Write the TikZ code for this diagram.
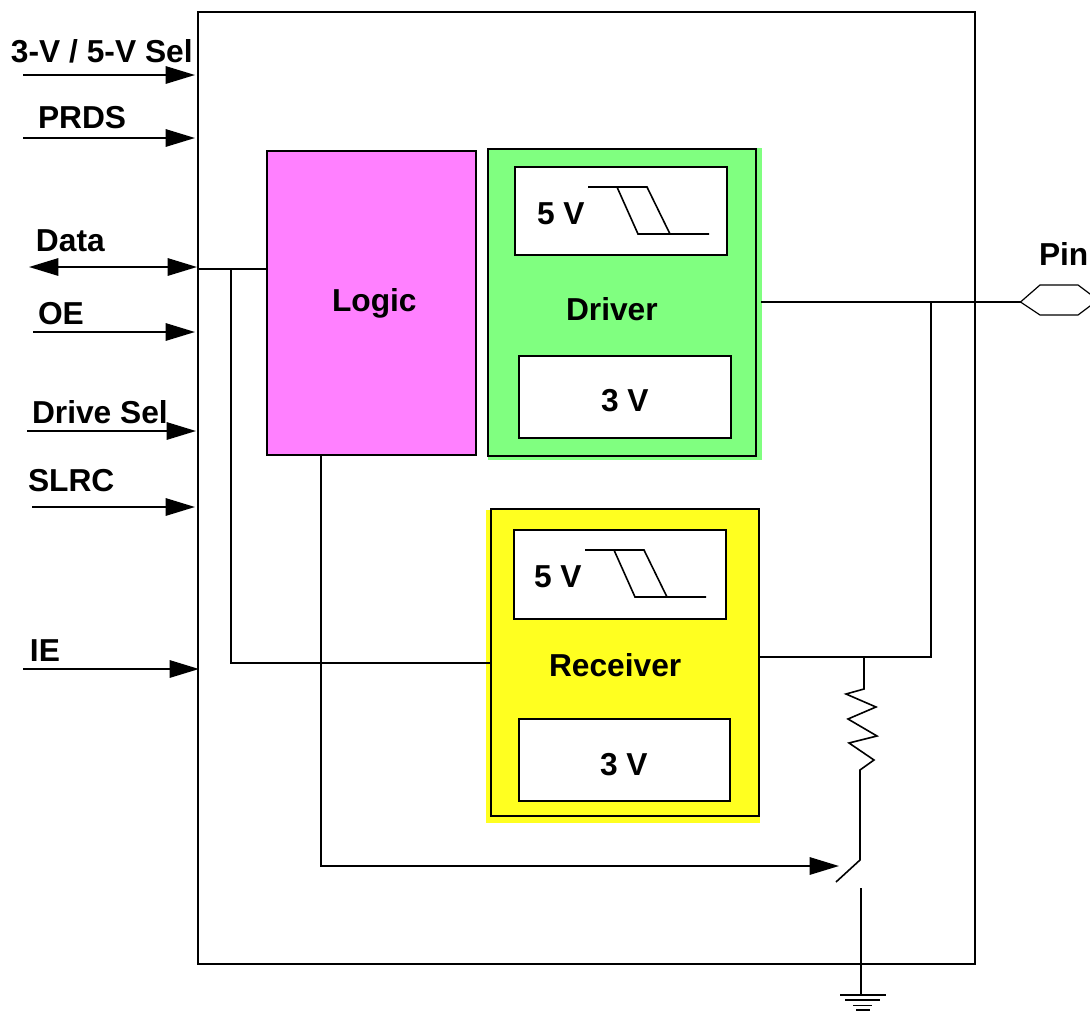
\documentclass[tikz,border=0pt]{standalone}
\usepackage{fontspec}
\setmainfont{Liberation Sans}
\usetikzlibrary{arrows.meta}
\definecolor{logicfill}{HTML}{FF80FF}
\definecolor{driverfill}{HTML}{80FF80}
\definecolor{receiverfill}{HTML}{FFFF20}
\tikzset{
  wire/.style={line width=1.5pt,line join=miter},
  thinwire/.style={line width=1.2pt,line join=miter},
  sig/.style={wire,-{Triangle[length=22pt,width=13pt]}},
  sigboth/.style={wire,{Triangle[length=22pt,width=13pt]}-{Triangle[length=22pt,width=13pt]}},
  lab/.style={anchor=base west,inner sep=0pt,outer sep=0pt,font=\fontsize{23.8}{26}\selectfont\bfseries},
  rbox/.style={draw,line width=1.5pt,inner sep=0pt,outer sep=0pt},
}
\newcommand{\pxbox}[6]{\node[rbox,#6,minimum width={(#4-#2)*0.75pt},minimum height={(#5-#3)*0.75pt}] (#1) at ({(#2+#4)/2},{(#3+#5)/2}) {};}
\begin{document}
\begin{tikzpicture}[x=0.75pt,y=-0.75pt]
\useasboundingbox (0,0) rectangle (1090,1011);
\clip (0,0) rectangle (1090,1011);
% frame
\pxbox{chip}{198}{12}{975}{964}{}
% colour fields
\fill[driverfill] (488,148) rectangle (762,460);
\fill[receiverfill] (486,510) rectangle (760,823);
\pxbox{logic}{267}{151}{476}{455}{fill=logicfill}
\pxbox{driver}{488}{149}{756}{456}{}
\pxbox{dfive}{515}{167}{727}{255}{fill=white}
\pxbox{dthree}{519}{356}{731}{438}{fill=white}
\pxbox{recv}{491}{509}{759}{816}{}
\pxbox{rfive}{514}{530}{726}{619}{fill=white}
\pxbox{rthree}{519}{719}{730}{801}{fill=white}
% labels
\node[lab] (tsel) at (11,62) {3-V / 5-V Sel};
\node[lab] (tprds) at (38,128) {PRDS};
\node[lab] (tdata) at (36,251) {Data};
\node[lab] (toe) at (38,324) {OE};
\node[lab] (tdrv) at (32,423) {Drive Sel};
\node[lab] (tslrc) at (28,491) {SLRC};
\node[lab] (tie) at (30,661) {IE};
\node[lab] (tpin) at (1039,265) {Pin};
\node[lab] (tlogic) at (332,311) {Logic};
\node[lab] (tdriver) at (566,320) {Driver};
\node[lab] (treceiver) at (549,676) {Receiver};
\node[lab] (td5) at (537,224) {5 V};
\node[lab] (td3) at (601,411) {3 V};
\node[lab] (tr5) at (534,587) {5 V};
\node[lab] (tr3) at (600,775) {3 V};
% signal arrow ends
\coordinate (a1) at (23,75);   \coordinate (b1) at (195,75);
\coordinate (a2) at (23,138);  \coordinate (b2) at (195,138);
\coordinate (a3) at (29,267);  \coordinate (b3) at (197,267);
\coordinate (a4) at (33,332);  \coordinate (b4) at (195,332);
\coordinate (a5) at (27,431);  \coordinate (b5) at (196,431);
\coordinate (a6) at (32,507);  \coordinate (b6) at (195,507);
\coordinate (a7) at (23,669);  \coordinate (b7) at (199,669);
\draw[sig] (a1) -- (b1);
\draw[sig] (a2) -- (b2);
\draw[sigboth] (a3) -- (b3);
\draw[sig] (a4) -- (b4);
\draw[sig] (a5) -- (b5);
\draw[sig] (a6) -- (b6);
\draw[sig] (a7) -- (b7);
% wiring
\coordinate (datain) at (198,269);
\coordinate (dtap) at (231,269);
\coordinate (recvin) at (490,663);
\coordinate (drvout) at (761,302);
\coordinate (pintap) at (931,302);
\coordinate (pinl) at (1020.5,302);
\coordinate (recvout) at (759,657);
\coordinate (rjoin) at (931,657);
\coordinate (rtap) at (864,657);
\draw[wire] (datain) -- (logic.west |- datain);
\draw[wire] (dtap) |- (recvin);
\draw[wire] (drvout) -- (pinl);
\draw[wire] (pintap) -- (rjoin) -- (recvout);
\coordinate (logout) at (321,455);
\coordinate (swtip) at (839,866);
\draw[sig] (logout) |- (swtip);
% resistor and switch
\coordinate (swhinge) at (860,860);
\coordinate (swend) at (836,882);
\draw[thinwire] (rtap) -- (864,689) -- (846,694) -- (876,707) -- (848,719) -- (877,736) -- (849,743) -- (874,760) -- (860,770) -- (swhinge) -- (swend);
% ground
\coordinate (gtop) at (861,888);
\coordinate (gbot) at (861,995);
\draw[thinwire] (gtop) -- (gbot);
\draw[thinwire] (840,995) -- (886,995);
\draw[thinwire] (845,1000) -- (880,1000);
\draw[thinwire] (853,1005.5) -- (872,1005.5);
\draw[thinwire] (856,1010) -- (870,1010);
% waveforms
\draw[thinwire] (588,187) -- (647,187) -- (670,234);
\draw[thinwire] (617,187) -- (638,234) -- (709,234);
\draw[thinwire] (585,550) -- (644,550) -- (667,597);
\draw[thinwire] (614,550) -- (635,597) -- (706,597);
% pin
\draw[line width=0.9pt,fill=white] (pinl) -- (1040,285) -- (1078,285) -- (1098,300) -- (1078,315) -- (1040,315) -- cycle;
\end{tikzpicture}
\end{document}
